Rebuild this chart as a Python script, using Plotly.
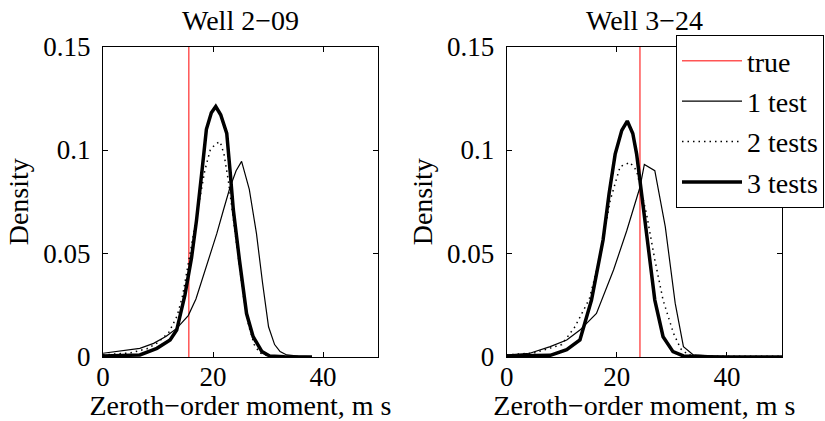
import plotly.graph_objects as go

# ---------------- data ----------------
titles = ["Well 2\u221209", "Well 3\u221224"]
true_values = [15.6, 24.2]

# Well 2-09
w1_x1 = [0, 3, 6.7, 9.2, 11.5, 13.4, 15.5, 16.9, 18.2, 19.5, 20.7, 21.9, 23.1, 24.2, 25.2, 26.6, 27.9, 29.0, 30.1, 31.2, 32.2, 33.4, 35.5, 38]
w1_y1 = [0.0018, 0.0028, 0.0042, 0.0066, 0.0100, 0.0138, 0.020, 0.028, 0.0387, 0.049, 0.0597, 0.071, 0.082, 0.090, 0.0945, 0.081, 0.0597, 0.036, 0.0146, 0.006, 0.0026, 0.001, 0.0004, 0.0002]
w1_x2 = [0, 3, 5, 8, 10, 12, 13.5, 14.5, 15.5, 16.5, 17.5, 18.5, 19.5, 20.5, 21.3, 22.0, 22.8, 23.5, 24.5, 25.5, 26.5, 27.5, 28.5, 30, 33, 38]
w1_y2 = [0.001, 0.0015, 0.002, 0.004, 0.007, 0.012, 0.020, 0.030, 0.045, 0.060, 0.075, 0.090, 0.100, 0.103, 0.104, 0.098, 0.085, 0.070, 0.050, 0.030, 0.015, 0.006, 0.002, 0.0005, 0.0002, 0.0001]
w1_x3 = [0, 4, 6.7, 9.8, 12.2, 13.4, 14.9, 16.1, 17.0, 18.0, 18.8, 19.7, 20.5, 21.4, 22.5, 23.1, 23.7, 24.8, 26.1, 27.3, 28.9, 30.3, 33, 38]
w1_y3 = [0.0005, 0.0006, 0.001, 0.0042, 0.0082, 0.013, 0.030, 0.048, 0.066, 0.090, 0.110, 0.118, 0.121, 0.117, 0.108, 0.090, 0.071, 0.047, 0.021, 0.0098, 0.0026, 0.0005, 0.0001, 0.0]

# Well 3-24
w2_x1 = [0, 4.2, 7.9, 10.9, 13.3, 16.3, 19.4, 21.8, 24.2, 25.0, 26.9, 28.8, 30.6, 32.1, 33.9, 40, 50]
w2_y1 = [0.001, 0.0018, 0.005, 0.0082, 0.013, 0.021, 0.042, 0.061, 0.082, 0.093, 0.090, 0.063, 0.026, 0.005, 0.001, 0.0002, 0.0001]
w2_x2 = [0, 5, 10, 12.4, 15.0, 17.1, 18.8, 20.6, 22.4, 23.6, 25.4, 26.9, 28.4, 30.3, 31.6, 33, 36, 42, 50]
w2_y2 = [0.001, 0.002, 0.006, 0.0146, 0.028, 0.050, 0.0757, 0.092, 0.094, 0.090, 0.069, 0.047, 0.0275, 0.0114, 0.004, 0.001, 0.0004, 0.0003, 0.0003]
w2_x3 = [0, 5, 7.9, 10.9, 13.3, 15.4, 17.5, 18.6, 19.7, 20.9, 21.9, 22.9, 23.6, 24.8, 25.7, 26.9, 28.4, 30.2, 32.1, 36, 50]
w2_y3 = [0.0005, 0.0006, 0.0008, 0.0035, 0.0082, 0.0275, 0.0565, 0.079, 0.098, 0.1095, 0.114, 0.108, 0.098, 0.0725, 0.053, 0.0275, 0.0098, 0.0026, 0.0005, 0.0001, 0.0]

series_names = ["1 test", "2 tests", "3 tests"]
x_ticks = [0, 20, 40]
y_ticks = [0, 0.05, 0.1, 0.15]
y_tick_labels = ["0", "0.05", "0.1", "0.15"]
x_label = "Zeroth\u2212order moment, m s"
y_label = "Density"

# ---------------- figure ----------------
FONT = "Liberation Serif, Times New Roman, serif"
W, H = 825, 421
RED = "rgb(255,85,85)"

fig = go.Figure()
panels = [
    (w1_x1, w1_y1, w1_x2, w1_y2, w1_x3, w1_y3),
    (w2_x1, w2_y1, w2_x2, w2_y2, w2_x3, w2_y3),
]
styles = [
    dict(color="black", width=1.2, dash="solid"),
    dict(color="black", width=1.5, dash="1.5px,4px"),
    dict(color="black", width=3.5, dash="solid"),
]

for i, p in enumerate(panels):
    xa = "x" if i == 0 else "x2"
    ya = "y" if i == 0 else "y2"
    show = i == 1
    fig.add_trace(go.Scatter(x=[true_values[i], true_values[i]], y=[y_ticks[0], y_ticks[-1]],
                             mode="lines", line=dict(color=RED, width=1.5), name="true",
                             showlegend=show, legendgroup="g0", xaxis=xa, yaxis=ya))
    for k in range(3):
        fig.add_trace(go.Scatter(x=p[2 * k], y=p[2 * k + 1], mode="lines", line=styles[k],
                                 name=series_names[k], showlegend=show, legendgroup="g%d" % (k + 1),
                                 xaxis=xa, yaxis=ya))

ytop = 1 - 46.5 / H
ybot = 1 - 357 / H
dom1 = [103 / W, 378 / W]
dom2 = [506.7 / W, 782 / W]

axis_common = dict(
    showline=True, linecolor="black", linewidth=1, mirror="ticks",
    ticks="inside", ticklen=5, tickcolor="black", tickwidth=1,
    showgrid=False, zeroline=False, automargin=False,
    tickfont=dict(family=FONT, size=27, color="black"),
    title_font=dict(family=FONT, size=28, color="black"),
)

xcfg = dict(range=[0, 50], tickvals=x_ticks, ticktext=[str(v) for v in x_ticks],
            title_text=x_label, title_standoff=9, ticklabelstandoff=-4, **axis_common)
ycfg = dict(range=[0, 0.15], tickvals=y_ticks, ticktext=y_tick_labels,
            title_text=y_label, title_standoff=6, ticklabelstandoff=6, **axis_common)

fig.update_layout(
    width=W, height=H,
    margin=dict(l=0, r=0, t=0, b=0, autoexpand=False),
    paper_bgcolor="white", plot_bgcolor="white",
    font=dict(family=FONT, size=28, color="black"),
    xaxis=dict(domain=dom1, anchor="y", **xcfg),
    yaxis=dict(domain=[ybot, ytop], anchor="x", **ycfg),
    xaxis2=dict(domain=dom2, anchor="y2", **xcfg),
    yaxis2=dict(domain=[ybot, ytop], anchor="x2", **ycfg),
    legend=dict(x=824 / W, xanchor="right", y=1 - 35 / H, yanchor="top",
                bgcolor="white", bordercolor="black", borderwidth=1,
                font=dict(family=FONT, size=28, color="black"),
                itemwidth=60, tracegroupgap=1, traceorder="grouped"),
    showlegend=True,
)

for i, t in enumerate(titles):
    dom = dom1 if i == 0 else dom2
    fig.add_annotation(text=t, x=(dom[0] + dom[1]) / 2, y=1 - 21 / H, xref="paper", yref="paper",
                       xanchor="center", yanchor="middle", showarrow=False,
                       font=dict(family=FONT, size=28, color="black"))

fig.write_html("out.html")
